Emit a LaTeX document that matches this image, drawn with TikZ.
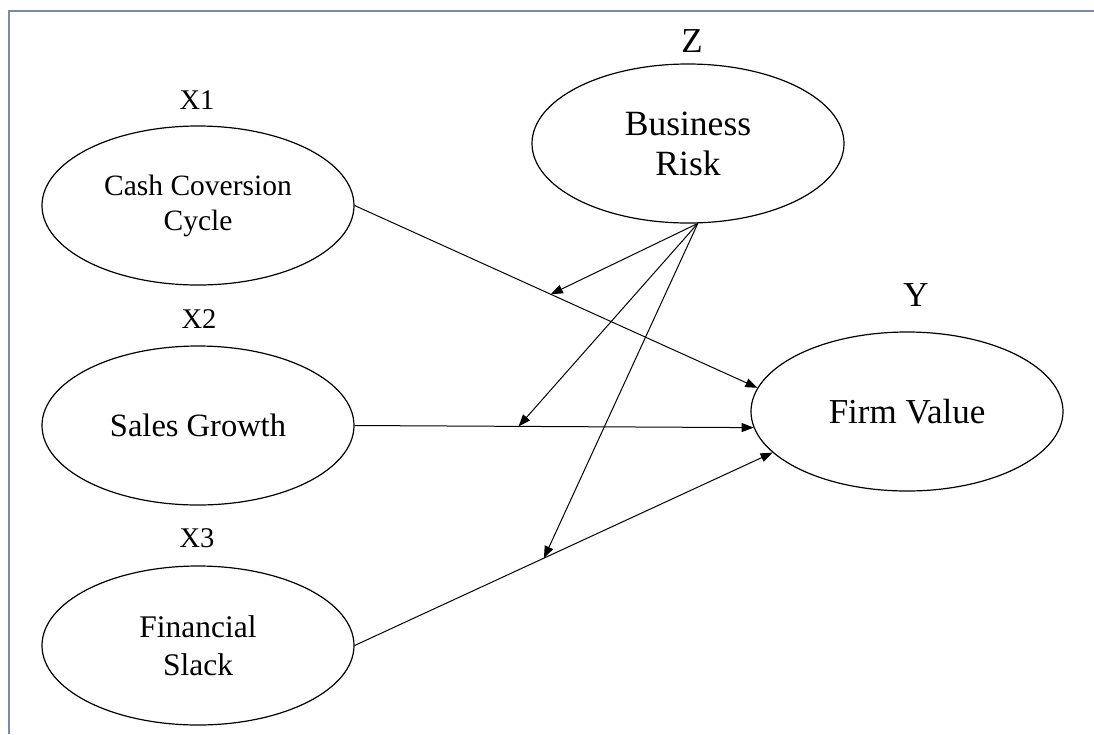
\documentclass[tikz,border=0pt]{standalone}
\usepackage{fontspec}
\setmainfont{Liberation Serif}
\usetikzlibrary{shapes.geometric,arrows.meta}
\definecolor{framecol}{RGB}{125,138,165}
\begin{document}
\begin{tikzpicture}[x=1pt,y=-1pt,
  latent/.style={draw, ellipse, line width=1.2pt, minimum width=312pt, minimum height=159pt, inner sep=0pt, align=center},
  lbl/.style={inner sep=0pt, font=\fontsize{28.5}{32}\selectfont},
  biglbl/.style={inner sep=0pt, font=\fontsize{35}{40}\selectfont},
  arr/.style={line width=1pt, -{Triangle[length=12pt,width=9pt]}}]
\useasboundingbox (0,0) rectangle (1094,734);
\fill[white] (0,0) rectangle (1094,734);
\draw[framecol, line width=2pt] (9,734) -- (9,11) -- (1094,11);

\node[latent, font=\fontsize{29.5}{35}\selectfont] (x1) at (198,205.5) {Cash Coversion\\Cycle};
\node[latent, font=\fontsize{32.5}{37}\selectfont] (x2) at (198,425.5) {Sales Growth};
\node[latent, font=\fontsize{31.5}{38}\selectfont] (x3) at (198,645.5) {Financial\\Slack};
\node[latent, font=\fontsize{35.5}{40}\selectfont] (bz) at (688,143.5) {Business\\Risk};
\node[latent, font=\fontsize{35}{40}\selectfont] (fv) at (907,411.5) {Firm Value};

\node[lbl] (lx1) at (197,100) {X1};
\node[lbl] (lx2) at (199,319) {X2};
\node[lbl] (lx3) at (197,538) {X3};
\node[biglbl] (lz) at (692,41) {Z};
\node[biglbl] (ly) at (916,295) {Y};

\draw[arr] (x1.east) -- coordinate[pos=0.487] (m1) (fv.171);
\draw[arr] (x2.east) -- coordinate[pos=0.411] (m2) (fv.186);
\draw[arr] (x3.east) -- coordinate[pos=0.453] (m3) (fv.197);

\draw[arr] (bz.-83) -- (m1);
\draw[arr] (bz.-83) -- (m2);
\draw[arr] (bz.-83) -- (m3);
\end{tikzpicture}
\end{document}
